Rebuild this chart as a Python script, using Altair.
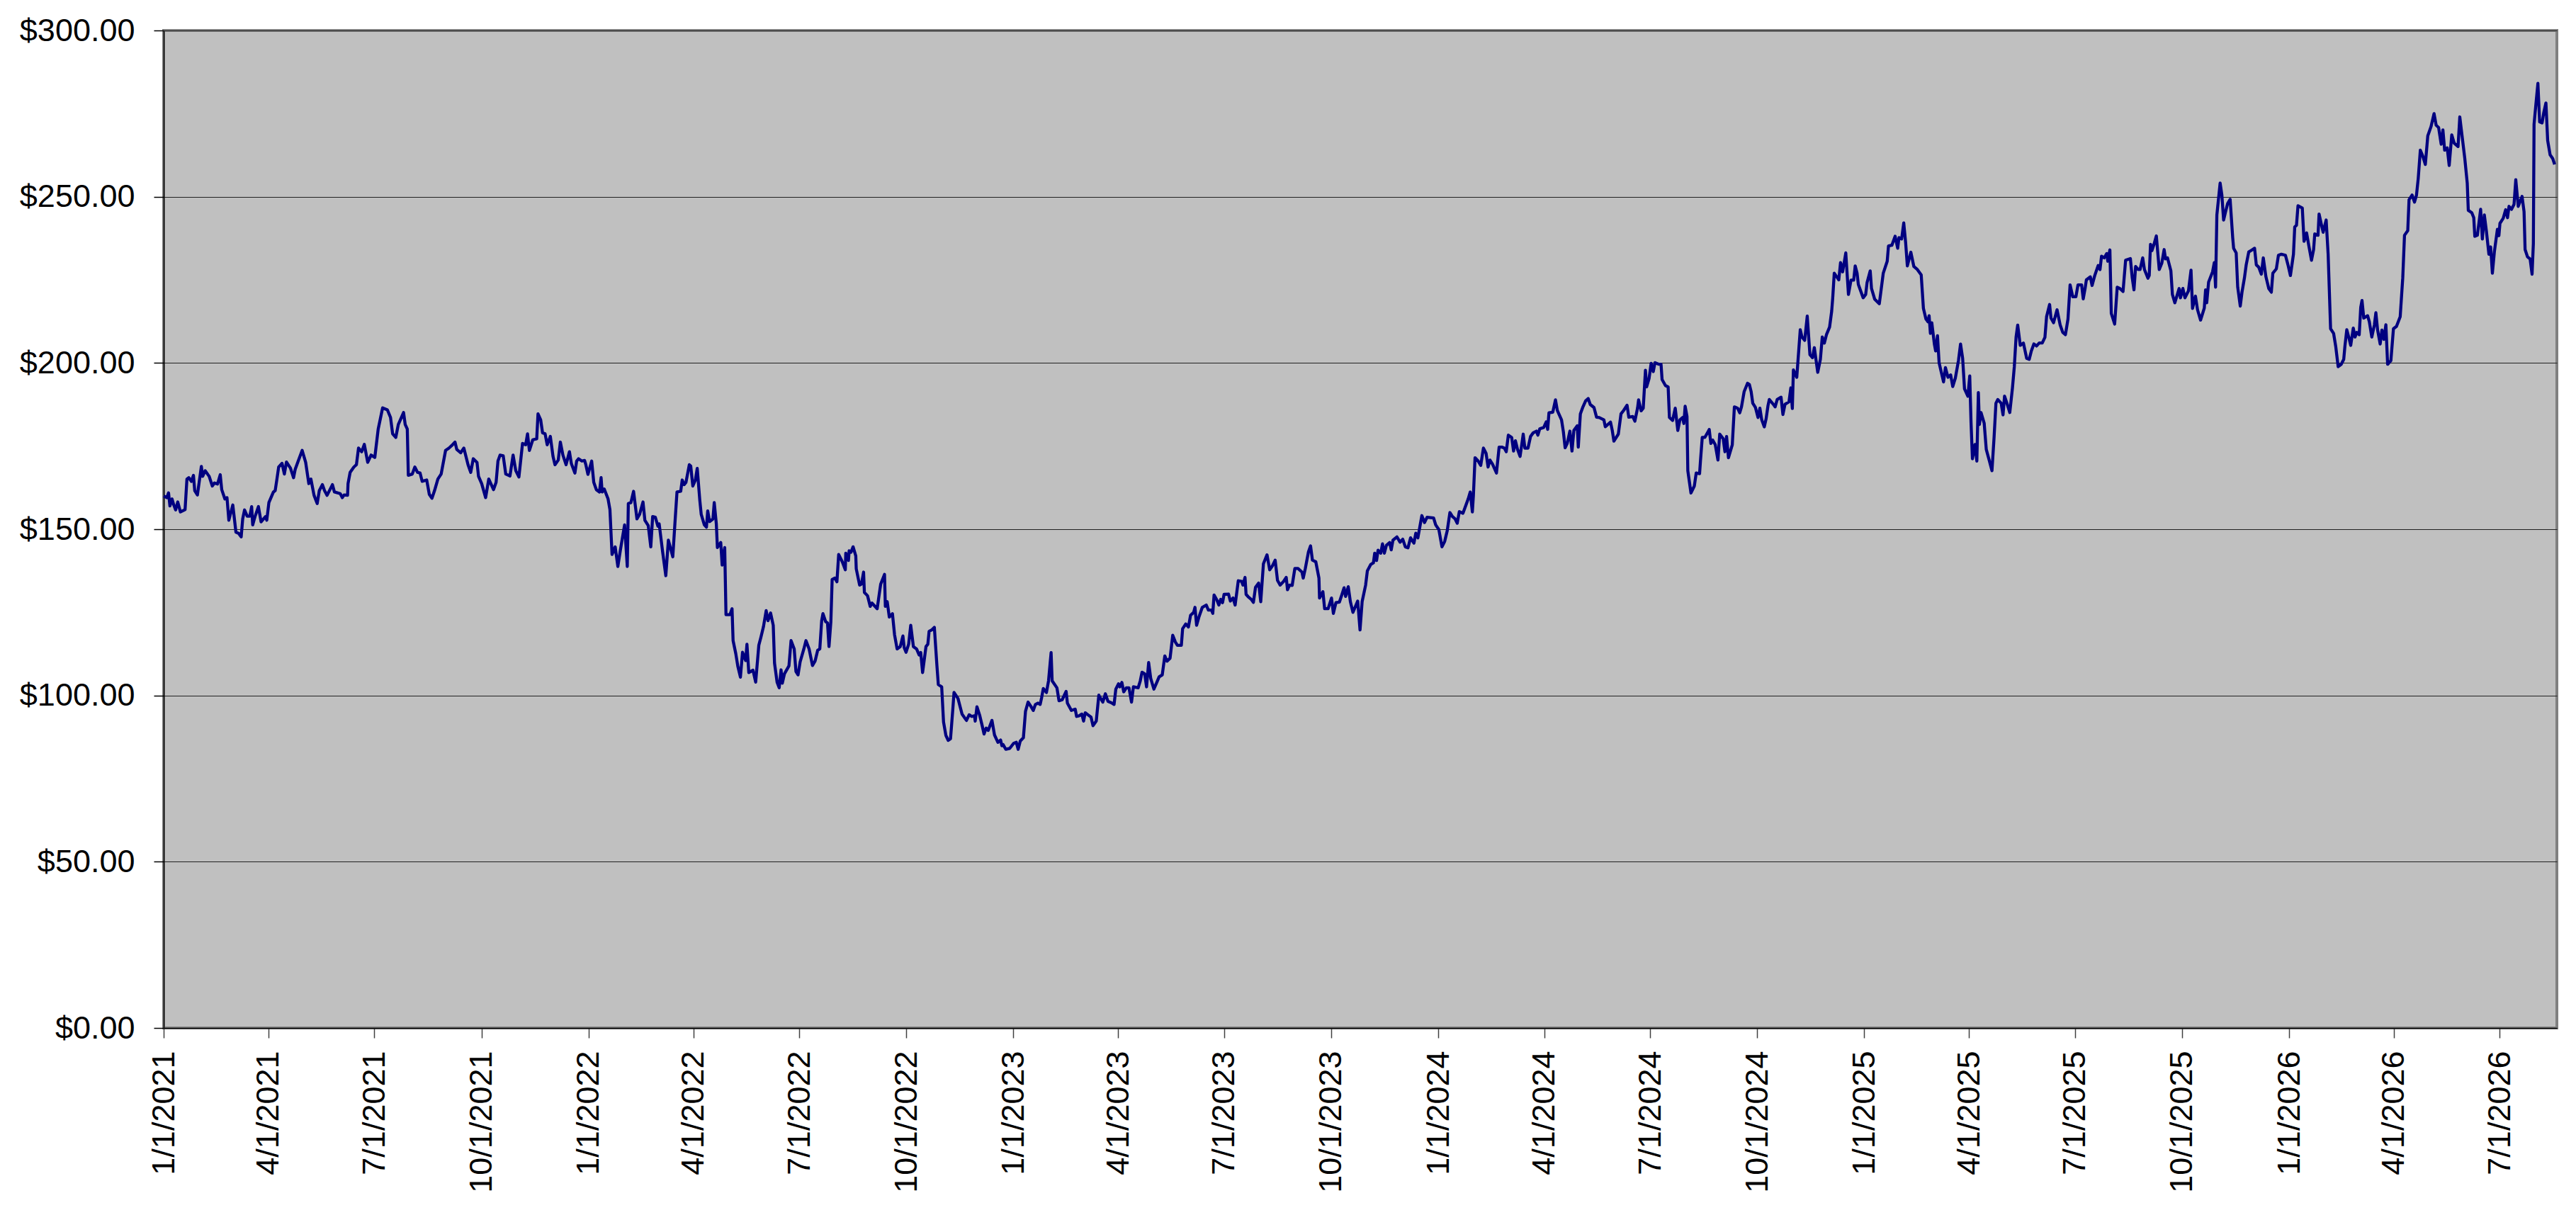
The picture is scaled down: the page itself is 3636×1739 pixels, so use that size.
import altair as alt
import pandas as pd

# Price trace: (days since 1/1/2021, price in $)
trace_2021 = [
    (0, 160.0), (2.7, 159.5), (4.2, 160.9), (5.4, 157.0), (7.2, 159.1), (8.7, 157.3), (10.3, 155.8), (12.1, 158.2),
    (14.4, 155.2), (18.4, 155.9), (20.0, 165.1), (21.6, 165.5), (23.8, 164.4), (25.6, 166.2), (26.7, 161.6),
    (29.0, 160.3), (32.4, 168.9), (33.5, 165.9), (35.7, 167.6), (39.1, 165.9), (41.8, 163.0), (43.6, 163.9),
    (46.3, 163.6), (48.6, 166.4), (49.9, 161.9), (52.6, 159.1), (54.4, 159.5), (56.0, 152.7), (59.4, 157.3),
    (62.1, 149.1), (64.3, 148.8), (66.6, 147.7), (67.9, 153.1), (69.5, 155.8), (71.8, 153.9), (74.0, 153.9),
    (75.6, 156.8), (76.5, 151.3), (78.5, 153.8), (81.4, 156.8), (83.7, 152.2), (87.5, 153.8), (88.6, 152.7),
    (90.4, 158.0), (94.3, 161.2), (95.8, 161.6), (97.2, 164.8), (98.8, 168.7), (101.7, 169.8), (103.7, 166.6),
    (105.5, 170.2), (108.9, 168.4), (111.6, 165.5), (113.0, 168.0), (115.6, 170.5), (119.0, 173.7), (122.0, 170.1),
    (124.7, 163.7), (126.5, 165.1), (129.2, 160.2), (131.9, 157.7), (133.7, 161.6), (136.4, 163.4), (138.2, 161.6),
    (140.4, 160.2), (145.0, 163.4), (146.7, 161.2), (151.7, 160.7), (153.5, 159.5), (155.0, 160.3), (158.0, 160.2),
    (158.4, 163.7), (160.2, 167.1), (163.4, 168.7), (165.6, 169.4), (167.4, 174.4), (170.1, 173.3), (172.4, 175.5),
    (175.3, 170.1), (178.2, 172.3), (181.4, 171.6), (184.3, 180.1), (188.1, 186.5), (192.2, 185.9), (194.9, 183.6),
    (196.7, 178.7), (199.4, 177.6), (201.6, 181.5), (206.1, 185.1), (207.5, 181.5), (209.3, 180.1), (210.2, 166.2),
    (213.6, 166.6), (215.8, 168.7), (218.1, 167.1), (220.3, 166.9), (222.1, 164.4), (226.0, 164.8), (228.2, 160.5),
    (230.5, 159.3), (232.7, 161.6), (235.6, 165.1), (238.4, 166.6), (242.2, 173.7), (245.1, 174.4), (247.3, 175.1),
    (250.3, 176.2), (251.8, 174.0), (255.2, 173.0), (257.9, 174.4), (261.5, 169.4), (263.8, 167.1), (266.0, 171.2),
    (269.2, 170.1), (270.5, 165.9), (273.2, 163.7), (276.6, 159.5), (279.3, 165.1), (283.4, 161.9), (285.6, 164.1),
    (287.2, 170.5), (289.0, 172.3), (291.7, 172.1), (293.9, 166.6), (297.5, 166.0), (300.2, 172.3), (302.5, 167.6),
    (305.2, 165.7), (308.3, 175.8), (311.0, 175.4), (312.6, 178.7), (314.2, 173.7), (317.1, 176.9), (320.5, 177.2),
    (321.6, 184.7), (323.9, 182.9), (325.5, 179.0), (327.7, 178.7), (329.5, 175.4), (332.2, 177.9), (334.5, 171.9),
    (336.2, 169.4), (339.0, 170.8), (340.8, 176.2), (343.0, 172.3), (345.7, 169.4), (348.6, 173.3),
]

trace_2022 = [
    (350.3, 169.7), (353.3, 166.9), (354.8, 170.5), (356.4, 171.2), (359.3, 170.5), (361.6, 170.7), (362.7, 169.4),
    (364.5, 166.5), (367.7, 170.5), (369.5, 164.1), (371.7, 161.9), (374.4, 161.2), (375.8, 165.5), (376.7, 161.2),
    (378.5, 162.1), (381.8, 159.1), (383.4, 155.9), (385.2, 142.4), (387.9, 144.7), (390.2, 138.8), (392.4, 143.8),
    (396.0, 151.3), (398.3, 138.8), (399.2, 157.7), (401.4, 158.0), (403.7, 161.4), (406.6, 153.1), (408.9, 154.5),
    (411.8, 158.2), (413.4, 152.7), (416.3, 151.1), (418.5, 144.7), (420.1, 153.8), (422.4, 153.6), (424.6, 150.9),
    (425.7, 151.6), (428.7, 143.1), (431.4, 136.0), (433.6, 146.7), (437.4, 141.7), (439.2, 151.6), (441.0, 161.2),
    (444.2, 161.4), (445.5, 164.8), (447.1, 163.4), (448.7, 164.1), (451.6, 169.4), (452.8, 169.0), (454.6, 163.0),
    (456.8, 164.8), (458.4, 168.3), (460.6, 158.7), (461.8, 154.5), (464.5, 151.3), (466.3, 150.6), (467.4, 155.5),
    (469.0, 152.3), (471.9, 153.1), (473.0, 158.0), (474.8, 151.6), (475.7, 144.5), (478.6, 146.0), (479.8, 139.2),
    (480.9, 142.4), (482.0, 144.5), (483.1, 124.3), (486.5, 124.3), (488.3, 126.1), (489.2, 116.5), (491.5, 112.6),
    (493.3, 108.7), (495.5, 105.5), (497.3, 113.0), (500.0, 110.5), (501.1, 115.4), (502.7, 106.9), (506.3, 107.6),
    (508.6, 104.0), (511.3, 115.1), (513.1, 117.5), (515.3, 120.7), (517.6, 125.5), (519.2, 122.5), (521.4, 124.8),
    (523.7, 121.1), (524.8, 109.7), (527.0, 104.0), (528.8, 102.3), (530.4, 107.7), (531.5, 103.7), (533.3, 106.5),
    (537.2, 108.9), (539.0, 116.5), (541.7, 114.0), (543.2, 107.2), (545.0, 106.2), (546.8, 110.1), (550.0, 114.0),
    (551.8, 116.5), (554.5, 114.0), (557.4, 109.0), (559.7, 110.4), (561.9, 113.6), (563.7, 114.0), (565.3, 122.5),
    (566.4, 124.6), (568.7, 122.2), (570.3, 121.8), (571.6, 114.7), (573.2, 122.2), (574.3, 134.9), (576.6, 135.3),
    (578.4, 134.2), (579.9, 142.4), (582.9, 140.3), (585.6, 137.8), (586.0, 142.8), (588.3, 140.6), (588.9, 143.5),
    (590.5, 143.1), (592.3, 144.7), (594.6, 142.0), (595.0, 138.1), (597.9, 133.2), (599.5, 133.5), (601.3, 137.1),
    (602.0, 131.0), (604.7, 130.0), (607.0, 126.8), (608.5, 127.8), (613.0, 126.1), (614.4, 129.6), (616.0, 133.5),
    (619.3, 136.4), (620.0, 126.8), (621.6, 128.2), (623.4, 123.6), (626.1, 124.6), (627.9, 118.3), (630.1, 114.0),
    (632.8, 114.7), (635.1, 117.9), (636.2, 114.4), (637.8, 113.0), (640.0, 115.4), (641.8, 121.1), (644.1, 114.7),
    (646.8, 114.0), (649.0, 112.2), (650.4, 112.9), (652.0, 106.9), (654.9, 114.7), (656.5, 115.4), (657.6, 119.3),
    (659.8, 119.7), (662.1, 120.5), (664.3, 109.0), (665.5, 103.3), (668.4, 102.6), (670.0, 92.0), (672.0, 88.0),
    (674.0, 86.5), (676.0, 87.0), (678.0, 96.0), (679.0, 100.9), (682.4, 99.1),
]

trace_2023 = [
    (685.9, 94.4), (689.7, 92.5), (692.0, 94.2), (694.2, 93.7), (696.5, 93.9), (697.2, 92.3), (698.7, 96.6),
    (701.0, 94.1), (703.2, 90.9), (704.8, 88.4), (706.6, 90.2), (708.4, 89.5), (711.6, 92.5), (713.8, 88.1),
    (716.7, 85.9), (719.0, 86.6), (720.1, 84.9), (721.2, 85.2), (723.5, 83.8), (726.9, 84.1), (730.2, 85.6),
    (732.5, 85.9), (734.1, 83.8), (735.9, 86.3), (738.6, 87.3), (740.4, 95.2), (742.6, 98.0), (744.9, 96.8),
    (747.1, 95.5), (748.9, 97.3), (751.2, 97.7), (753.0, 97.3), (754.3, 99.4), (755.7, 102.1), (758.4, 100.9),
    (760.2, 104.4), (762.4, 112.9), (763.3, 104.4), (767.4, 102.3), (769.2, 98.4), (771.9, 98.7), (775.3, 101.2),
    (776.4, 97.7), (779.8, 95.5), (783.1, 95.9), (784.3, 93.7), (786.5, 93.9), (788.8, 94.4), (790.3, 92.3),
    (791.7, 94.8), (794.4, 94.1), (796.7, 93.5), (798.4, 90.9), (801.2, 92.3), (803.4, 100.1), (806.8, 98.0),
    (809.0, 100.5), (811.3, 98.2), (814.2, 97.8), (816.5, 97.3), (818.0, 101.9), (820.3, 103.5), (821.4, 102.6),
    (823.2, 103.9), (824.8, 101.1), (827.0, 102.3), (829.3, 102.3), (831.5, 98.0), (833.1, 102.6), (837.2, 102.3),
    (839.0, 104.4), (840.5, 107.0), (842.8, 106.5), (844.4, 102.6), (846.2, 109.9), (848.0, 105.1), (850.7, 101.9),
    (852.9, 103.7), (855.2, 105.6), (857.9, 106.2), (860.1, 111.9), (861.9, 110.3), (864.6, 111.2), (866.9, 118.1),
    (869.1, 116.1), (870.9, 115.1), (874.3, 115.1), (875.4, 120.1), (878.1, 121.5), (880.4, 120.6), (882.2, 124.1),
    (884.9, 125.0), (886.0, 126.5), (887.4, 121.1), (889.4, 123.6), (892.3, 126.5), (895.7, 127.2), (897.5, 125.7),
    (900.2, 125.7), (901.3, 124.7), (902.4, 130.2), (904.7, 128.8), (906.5, 127.2), (908.1, 128.9), (909.7, 127.9),
    (911.0, 130.4), (914.8, 130.5), (916.4, 128.4), (918.7, 129.3), (920.5, 127.2), (923.2, 134.5), (926.1, 134.3),
    (927.2, 133.2), (929.0, 135.5), (929.9, 130.4), (931.7, 129.7), (934.4, 128.9), (936.2, 128.0), (938.0, 132.5),
    (940.7, 133.8), (942.5, 128.2), (944.8, 139.6), (947.9, 142.3), (950.2, 137.8), (952.4, 138.9), (954.9, 140.7),
    (956.9, 134.6), (959.2, 133.2), (962.1, 134.3), (964.4, 135.5), (965.5, 131.8), (967.3, 133.2), (969.5, 133.1),
    (971.8, 138.2), (974.5, 138.2), (977.9, 137.1), (979.0, 135.3), (980.8, 138.2), (983.5, 143.2), (985.3, 145.0),
    (986.9, 140.7), (989.8, 140.2), (992.5, 135.3), (993.0, 129.3), (995.9, 131.2), (997.4, 126.1), (1000.4, 126.1),
    (1003.3, 129.3), (1004.9, 124.7), (1007.1, 127.9), (1010.1, 128.1), (1012.3, 130.4), (1014.1, 132.4),
    (1015.4, 129.8), (1017.7, 132.7), (1019.5, 128.2), (1021.7, 125.0), (1023.5, 126.5), (1025.8, 128.4),
    (1027.8, 119.7), (1029.6, 128.2), (1032.6, 133.2), (1034.1, 137.5),
]

trace_2024 = [
    (1037.0, 139.4), (1039.3, 139.9), (1040.4, 142.8), (1042.0, 140.6), (1043.3, 143.7), (1045.6, 142.8),
    (1047.1, 145.6), (1048.7, 142.8), (1050.5, 145.2), (1053.2, 146.0), (1054.6, 143.8), (1056.1, 146.7),
    (1059.5, 147.7), (1062.2, 146.1), (1064.5, 147.0), (1066.7, 144.7), (1069.0, 144.4), (1071.2, 147.4),
    (1074.1, 145.8), (1075.7, 148.8), (1077.5, 147.4), (1080.9, 154.1), (1083.2, 152.0), (1085.4, 153.6),
    (1091.0, 153.4), (1092.8, 151.3), (1095.5, 149.9), (1098.2, 144.7), (1100.5, 146.3), (1102.7, 149.5),
    (1105.0, 155.0), (1107.2, 153.8), (1109.5, 153.1), (1111.3, 151.8), (1113.1, 155.3), (1116.2, 154.8),
    (1118.5, 157.0), (1120.7, 159.1), (1122.5, 161.2), (1124.3, 155.2), (1125.2, 160.2), (1126.6, 171.5),
    (1129.3, 170.5), (1131.5, 169.2), (1133.8, 174.4), (1136.1, 172.8), (1137.8, 168.7), (1139.4, 170.8),
    (1141.7, 169.5), (1145.0, 166.9), (1147.3, 174.7), (1149.6, 174.7), (1151.8, 174.4), (1153.4, 173.3),
    (1155.2, 178.3), (1158.1, 177.6), (1159.7, 173.5), (1161.3, 176.6), (1163.1, 174.0), (1165.3, 171.9),
    (1168.0, 178.6), (1169.4, 174.4), (1172.1, 174.4), (1174.3, 177.9), (1176.6, 179.0), (1179.3, 179.5),
    (1180.6, 178.3), (1182.2, 180.2), (1185.6, 180.6), (1187.8, 182.3), (1189.0, 180.0), (1190.1, 185.0),
    (1193.4, 185.2), (1195.7, 188.9), (1197.3, 185.7), (1200.9, 182.9), (1202.5, 179.3), (1204.0, 174.5),
    (1205.8, 175.8), (1208.1, 179.5), (1209.9, 173.5), (1211.5, 179.7), (1214.4, 181.1), (1215.3, 174.7),
    (1217.1, 184.7), (1219.3, 186.8), (1221.6, 188.6), (1223.8, 189.3), (1225.6, 187.5), (1228.8, 186.6),
    (1231.0, 183.7), (1233.3, 183.6), (1237.3, 182.9), (1238.5, 180.8), (1243.0, 182.2), (1244.5, 179.7),
    (1245.9, 176.5), (1249.7, 178.6), (1252.0, 184.7), (1254.2, 185.7), (1257.2, 187.3), (1258.7, 183.7),
    (1262.1, 183.9), (1263.9, 182.5), (1266.2, 186.4), (1267.1, 188.9), (1269.3, 185.6), (1271.1, 186.4),
    (1273.0, 197.8), (1274.0, 192.8), (1276.1, 195.3), (1277.9, 199.9), (1279.7, 197.4), (1281.2, 200.1),
    (1284.6, 199.6), (1286.4, 199.6), (1287.3, 195.0), (1290.2, 193.2), (1292.5, 192.8), (1293.6, 183.6),
    (1296.3, 182.7), (1298.6, 186.4), (1300.8, 179.7), (1302.6, 182.9), (1304.9, 183.6), (1306.0, 181.8),
    (1307.1, 187.0), (1308.7, 183.9), (1309.4, 167.6), (1312.1, 160.9), (1315.0, 163.0), (1316.6, 166.9),
    (1319.5, 166.7), (1320.2, 170.2), (1321.8, 177.6), (1324.0, 177.6), (1326.3, 179.0), (1327.8, 180.0),
    (1329.2, 175.8), (1330.8, 176.8), (1333.0, 175.4), (1335.3, 170.8), (1336.8, 178.6), (1339.8, 177.2),
    (1341.3, 173.3), (1342.7, 177.9), (1344.3, 171.5), (1347.6, 175.4), (1349.4, 186.8), (1352.2, 186.4),
    (1354.0, 185.0), (1355.5, 186.8), (1357.8, 191.4), (1360.7, 193.9), (1362.3, 193.5), (1363.8, 191.4),
    (1365.2, 187.9), (1367.5, 186.6), (1369.7, 183.6), (1371.3, 186.4), (1372.9, 182.9), (1375.1, 180.8),
]

trace_2025 = [
    (1376.7, 183.3), (1378.3, 187.2), (1379.4, 189.0), (1382.8, 187.6), (1384.4, 186.8), (1386.2, 189.0),
    (1389.5, 189.7), (1391.1, 184.5), (1392.9, 187.6), (1396.3, 188.3), (1397.9, 192.5), (1399.2, 186.3),
    (1400.1, 197.9), (1403.0, 195.7), (1406.0, 210.0), (1407.5, 207.8), (1409.8, 206.8), (1412.0, 214.1),
    (1414.3, 202.5), (1416.5, 201.6), (1418.1, 204.6), (1421.0, 197.2), (1423.3, 201.1), (1424.9, 207.8),
    (1426.7, 206.0), (1428.5, 208.5), (1431.2, 210.8), (1433.0, 215.6), (1433.9, 219.6), (1435.2, 227.0),
    (1439.1, 225.0), (1440.6, 230.2), (1442.4, 227.4), (1445.1, 233.1), (1447.4, 220.6), (1449.6, 224.9),
    (1451.9, 224.9), (1453.2, 229.2), (1454.8, 227.0), (1455.9, 223.6), (1460.0, 219.6), (1462.2, 220.6),
    (1463.4, 224.2), (1466.1, 227.7), (1467.2, 222.4), (1469.9, 219.2), (1473.9, 217.8), (1475.1, 221.0),
    (1477.3, 227.0), (1480.7, 230.6), (1481.8, 235.2), (1484.7, 235.4), (1487.5, 238.1), (1489.7, 234.5),
    (1490.8, 237.7), (1493.1, 237.3), (1494.9, 242.1), (1496.5, 236.3), (1498.0, 229.2), (1501.0, 233.3),
    (1503.6, 229.0), (1506.6, 228.1), (1509.9, 226.5), (1511.8, 216.4), (1514.0, 213.2), (1515.6, 212.4),
    (1516.7, 214.2), (1517.8, 208.9), (1519.0, 212.1), (1521.2, 205.7), (1522.3, 203.6), (1523.9, 208.2),
    (1525.3, 200.0), (1529.1, 194.3), (1530.7, 198.6), (1532.9, 195.7), (1535.2, 196.4), (1537.0, 192.9),
    (1539.2, 195.4), (1541.9, 200.7), (1543.7, 205.7), (1545.5, 201.4), (1547.1, 192.2), (1550.0, 190.0),
    (1551.6, 196.1), (1552.7, 182.2), (1553.9, 171.2), (1556.1, 175.5), (1557.7, 170.5), (1559.0, 191.1),
    (1559.9, 181.5), (1561.3, 185.1), (1564.0, 181.9), (1565.8, 174.0), (1568.5, 170.5), (1570.7, 167.6),
    (1572.5, 177.6), (1574.1, 187.9), (1575.7, 189.0), (1578.6, 187.9), (1580.2, 184.4), (1581.5, 190.0),
    (1583.8, 187.6), (1586.0, 185.1), (1588.3, 192.5), (1589.9, 198.9), (1591.4, 207.8), (1592.8, 211.4),
    (1595.0, 205.3), (1597.7, 206.0), (1600.5, 201.4), (1602.7, 201.1), (1604.5, 203.6), (1606.7, 205.7),
    (1609.0, 205.1), (1611.3, 206.0), (1613.9, 206.0), (1616.2, 207.7), (1617.6, 213.9), (1620.2, 217.6),
    (1621.4, 213.5), (1623.6, 212.1), (1626.6, 216.0), (1629.3, 211.4), (1631.5, 209.2), (1633.8, 208.5),
    (1636.0, 213.2), (1637.8, 223.5), (1640.1, 219.9), (1642.8, 219.9), (1644.6, 223.5), (1647.7, 223.5),
    (1649.1, 219.3), (1650.7, 222.4), (1651.8, 225.0), (1655.2, 225.9), (1656.7, 223.3), (1659.0, 226.3),
    (1661.9, 229.3), (1663.5, 228.1), (1664.8, 232.1), (1667.1, 231.6), (1669.3, 232.9), (1670.2, 230.6),
    (1672.0, 234.0), (1673.2, 214.9), (1676.1, 211.7), (1678.3, 222.8), (1680.6, 222.4), (1683.3, 221.5),
    (1685.5, 230.9), (1689.6, 231.4), (1691.2, 225.6), (1692.7, 222.0), (1694.1, 229.0), (1696.3, 228.1),
    (1697.9, 228.1), (1700.2, 231.6), (1701.7, 228.1), (1704.7, 225.5), (1705.8, 226.3), (1706.9, 235.7),
    (1708.1, 233.8), (1709.9, 235.7), (1711.9, 238.2), (1714.4, 228.1), (1716.6, 230.0), (1718.6, 234.1),
    (1719.8, 231.3), (1721.5, 231.6),
]

trace_2026 = [
    (1724.4, 227.7), (1725.7, 220.6), (1727.8, 218.1), (1731.5, 222.4), (1732.6, 219.6), (1734.7, 222.4),
    (1736.5, 219.6), (1739.5, 221.7), (1741.7, 227.9), (1743.0, 216.4), (1745.5, 220.1), (1747.3, 216.0),
    (1749.9, 212.9), (1753.1, 216.5), (1754.2, 222.0), (1755.2, 218.1), (1756.8, 224.3), (1760.2, 227.4),
    (1761.7, 230.2), (1762.8, 222.8), (1763.9, 244.5), (1766.7, 254.1), (1768.2, 250.5), (1769.7, 243.0),
    (1771.4, 245.5), (1773.2, 248.0), (1775.3, 249.2), (1777.5, 237.7), (1778.3, 234.5), (1780.5, 233.1),
    (1781.8, 222.8), (1784.0, 217.1), (1785.5, 221.3), (1787.6, 225.6), (1789.1, 229.5), (1791.3, 233.4),
    (1794.1, 234.0), (1796.3, 234.5), (1797.8, 229.5), (1799.9, 228.8), (1802.1, 226.7), (1803.8, 231.6),
    (1806.0, 226.0), (1808.5, 222.4), (1810.7, 221.3), (1812.0, 227.0), (1815.0, 228.3), (1816.8, 232.4),
    (1819.3, 232.7), (1822.8, 232.4), (1825.0, 229.5), (1827.1, 226.3), (1829.7, 232.7), (1830.8, 240.9),
    (1832.3, 241.4), (1833.6, 247.3), (1837.3, 246.6), (1838.8, 236.6), (1841.0, 239.1), (1843.1, 234.9),
    (1845.2, 230.9), (1847.0, 234.1), (1848.0, 238.8), (1850.8, 238.4), (1851.7, 244.8), (1853.9, 241.3),
    (1855.2, 239.3), (1857.8, 243.0), (1859.5, 232.7), (1861.6, 210.3), (1864.2, 208.9), (1866.0, 205.0),
    (1868.1, 198.9), (1870.7, 199.6), (1872.9, 201.1), (1873.9, 205.0), (1875.5, 210.0), (1877.2, 207.8),
    (1878.9, 205.3), (1881.1, 210.5), (1882.6, 207.8), (1884.1, 209.2), (1886.2, 208.5), (1887.5, 216.7),
    (1888.6, 218.8), (1890.1, 213.5), (1893.4, 214.2), (1894.9, 212.4), (1897.0, 207.8), (1899.2, 211.4),
    (1900.5, 215.1), (1902.0, 209.9), (1904.2, 205.7), (1905.7, 209.9), (1907.4, 207.1), (1909.1, 211.5),
    (1910.6, 199.6), (1913.4, 200.7), (1915.6, 210.3), (1918.2, 211.0), (1921.4, 213.9), (1923.6, 225.6),
    (1925.1, 238.4), (1927.9, 239.8), (1929.0, 249.1), (1931.6, 250.5), (1933.7, 248.4), (1935.4, 250.5),
    (1936.9, 255.5), (1938.7, 264.0), (1940.8, 262.2), (1943.0, 259.7), (1945.1, 268.3), (1947.9, 271.1),
    (1950.5, 275.0), (1952.3, 271.5), (1954.4, 270.8), (1956.6, 265.8), (1958.1, 270.1), (1959.6, 264.0),
    (1961.8, 264.7), (1963.5, 259.4), (1965.7, 268.6), (1967.8, 266.1), (1971.1, 265.1), (1972.6, 274.0),
    (1974.7, 267.9), (1976.9, 261.5), (1979.0, 254.1), (1979.9, 245.9), (1982.9, 245.2), (1984.6, 243.7),
    (1985.5, 238.1), (1987.7, 238.4), (1989.0, 242.0), (1990.5, 246.2), (1992.0, 237.3), (1993.7, 244.5),
    (1995.4, 239.8), (1997.6, 232.7), (1999.1, 234.9), (2000.6, 227.0), (2002.3, 233.4), (2004.9, 240.2),
    (2006.2, 238.3), (2007.1, 242.0), (2009.9, 243.5), (2012.0, 246.1), (2013.6, 243.7), (2014.9, 247.1),
    (2017.0, 246.2), (2019.2, 247.7), (2020.7, 255.1), (2022.8, 247.1), (2026.1, 250.1), (2027.8, 245.5),
    (2028.7, 234.1), (2030.8, 231.9), (2033.0, 231.3), (2034.7, 226.7), (2035.8, 235.9), (2036.4, 271.8),
    (2037.9, 277.5), (2039.7, 284.1), (2041.2, 272.5), (2043.3, 272.2), (2044.8, 275.4), (2046.6, 278.2),
    (2048.1, 266.9), (2050.2, 262.6), (2052.4, 261.5), (2054.1, 259.7),
]

start_date = "2021-01-01"
end_date = (2026, 8, 19)
tick_dates = [(y, m) for y in range(2021, 2027) for m in (1, 4, 7, 10) if (y, m) <= (2026, 7)]
price_ticks = [0, 50, 100, 150, 200, 250, 300]

rows = trace_2021 + trace_2022 + trace_2023 + trace_2024 + trace_2025 + trace_2026
df = pd.DataFrame(rows, columns=["day", "price"])
df["date"] = pd.Timestamp(start_date) + pd.to_timedelta(df["day"], unit="D")
df = df[["date", "price"]]

FONT = "Liberation Sans"

x_axis = alt.Axis(
    values=[alt.DateTime(year=y, month=m, date=1) for (y, m) in tick_dates],
    format="%-m/%-d/%Y",
    labelAngle=270,
    labelAlign="right",
    labelBaseline="middle",
    labelFont=FONT,
    labelFontSize=45,
    labelColor="#000000",
    labelPadding=18,
    labelOverlap=False,
    labelFlush=False,
    labelLimit=0,
    tickSize=14,
    tickColor="#404040",
    tickWidth=1.5,
    domainColor="#000000",
    domainWidth=1.5,
    grid=False,
    title=None,
)

y_axis = alt.Axis(
    values=price_ticks,
    format="$,.2f",
    labelFont=FONT,
    labelFontSize=45,
    labelColor="#000000",
    labelPadding=27,
    labelFlush=False,
    labelLimit=0,
    tickSize=14,
    tickColor="#000000",
    tickWidth=1.5,
    domainColor="#000000",
    domainWidth=1.5,
    grid=True,
    gridColor="#202020",
    gridWidth=1.2,
    title=None,
)

chart = (
    alt.Chart(df)
    .mark_line(color="#000080", strokeWidth=4.3, strokeJoin="round")
    .encode(
        x=alt.X(
            "date:T",
            scale=alt.Scale(
                domain=[
                    alt.DateTime(year=2021, month=1, date=1),
                    alt.DateTime(year=end_date[0], month=end_date[1], date=end_date[2]),
                ],
                nice=False,
            ),
            axis=x_axis,
        ),
        y=alt.Y("price:Q", scale=alt.Scale(domain=[0, 300], nice=False), axis=y_axis),
    )
    .properties(
        width=3378,
        height=1408,
        autosize=alt.AutoSizeParams(type="none"),
        padding={"left": 223, "top": 35, "right": 15, "bottom": 270},
        background="#FFFFFF",
    )
    .configure_view(fill="#C0C0C0", stroke="#808080", strokeWidth=4)
)

chart.save("out.html", embed_options={"renderer": "svg", "actions": False})
